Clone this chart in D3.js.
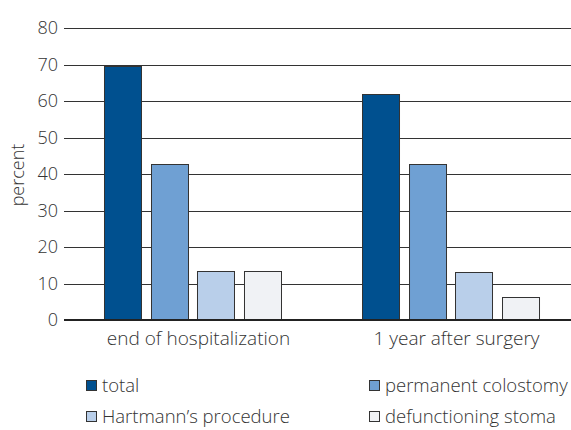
<!DOCTYPE html>
<html>
<head>
<meta charset="utf-8">
<script src="https://cdn.jsdelivr.net/npm/d3@7"></script>
<style>
  body { margin: 0; background: #fff; }
  svg text { font-family: "Open Sans", sans-serif; font-weight: 300; fill: #333; }
</style>
</head>
<body>
<div id="canvas"></div>
<script>
// chart data
var groups = ["end of hospitalization", "1 year after surgery"];
var seriesNames = ["total", "permanent colostomy", "Hartmann\u2019s procedure", "defunctioning stoma"];
var seriesColors = ["#00508f", "#6fa0d3", "#b9cfea", "#f0f2f5"];
var endOfHosp = [69.7, 42.8, 13.4, 13.4];
var oneYear = [61.9, 42.8, 13.2, 6.3];
var yTicks = [0, 10, 20, 30, 40, 50, 60, 70, 80];

var width = 571, height = 430;

var svg = d3.select("#canvas")
  .append("svg")
  .attr("width", width)
  .attr("height", height);

// scales
var y = d3.scaleLinear().domain([0, 80]).range([320, 28]);

var x0 = d3.scaleBand()
  .domain(groups)
  .range([64, 579])
  .paddingInner(0.314)
  .paddingOuter(0.155);

var x1 = d3.scaleBand()
  .domain(seriesNames)
  .range([0, x0.bandwidth()])
  .paddingInner(0.207)
  .paddingOuter(0);

// gridlines
svg.append("g")
  .selectAll("line")
  .data(yTicks.filter(function(d) { return d > 0; }))
  .join("line")
  .attr("x1", 64)
  .attr("x2", width)
  .attr("y1", function(d) { return Math.round(y(d)) + 0.5; })
  .attr("y2", function(d) { return Math.round(y(d)) + 0.5; })
  .attr("stroke", "#333")
  .attr("stroke-width", 1);

// tick labels
svg.append("g")
  .selectAll("text")
  .data(yTicks)
  .join("text")
  .attr("x", 58)
  .attr("y", function(d) { return y(d); })
  .attr("dy", "0.35em")
  .attr("text-anchor", "end")
  .style("font-size", "18px")
  .text(function(d) { return d; });

// y axis label
svg.append("text")
  .attr("transform", "translate(24,175) rotate(-90)")
  .attr("text-anchor", "middle")
  .style("font-size", "18px")
  .text("percent");

// bars
var allValues = [endOfHosp, oneYear];
var groupG = svg.append("g")
  .selectAll("g")
  .data(groups)
  .join("g")
  .attr("transform", function(d) { return "translate(" + x0(d) + ",0)"; });

groupG.selectAll("rect")
  .data(function(d, i) {
    return seriesNames.map(function(s, j) { return { name: s, value: allValues[i][j], color: seriesColors[j] }; });
  })
  .join("rect")
  .attr("x", function(d) { return Math.round(x1(d.name)) + 0.5; })
  .attr("y", function(d) { return Math.round(y(d.value)) + 0.5; })
  .attr("width", Math.round(x1.bandwidth()))
  .attr("height", function(d) { return Math.round(y(0)) - Math.round(y(d.value)); })
  .attr("fill", function(d) { return d.color; })
  .attr("stroke", "#333")
  .attr("stroke-width", 1);

// baseline
svg.append("line")
  .attr("x1", 64)
  .attr("x2", width)
  .attr("y1", y(0))
  .attr("y2", y(0))
  .attr("stroke", "#222")
  .attr("stroke-width", 2);

// category labels
svg.append("g")
  .selectAll("text")
  .data(groups)
  .join("text")
  .attr("x", function(d) { return x0(d) + x0.bandwidth() / 2 + 6; })
  .attr("y", 345)
  .attr("text-anchor", "middle")
  .style("font-size", "19px")
  .text(function(d) { return d; });

// legend
var legendX = [86, 369], legendY = [385, 416];
for (let i = 0; i < seriesNames.length; i++) {
  var lx = legendX[i % 2], ly = legendY[Math.floor(i / 2)];
  svg.append("rect")
    .attr("x", lx + 0.5).attr("y", ly - 4.5)
    .attr("width", 10).attr("height", 10)
    .attr("fill", seriesColors[i])
    .attr("stroke", "#333").attr("stroke-width", 1);
  svg.append("text")
    .attr("x", lx + 16).attr("y", ly)
    .attr("dy", "0.38em")
    .style("font-size", "18.5px")
    .text(seriesNames[i]);
}
</script>
</body>
</html>
